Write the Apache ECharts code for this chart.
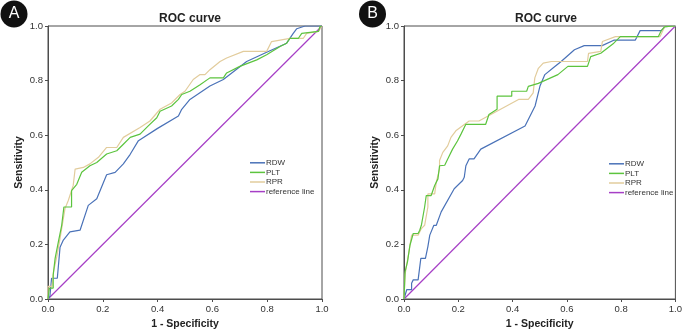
<!DOCTYPE html>
<html>
<head>
<meta charset="utf-8">
<script src="https://cdn.jsdelivr.net/npm/echarts@6/dist/echarts.min.js"></script>
<style>
  html, body { margin: 0; padding: 0; background: #fff; }
  #roc { width: 685px; height: 335px; }
</style>
</head>
<body>
<div id="roc"></div>
<script>
// ROC points [1 - specificity, sensitivity]
var rdwA = [[0,0],[0.007,0.01],[0.013,0.076],[0.034,0.076],[0.044,0.19],[0.056,0.216],[0.08,0.246],[0.117,0.252],[0.147,0.343],[0.178,0.367],[0.214,0.455],[0.245,0.464],[0.275,0.495],[0.30,0.53],[0.33,0.58],[0.40,0.625],[0.476,0.67],[0.488,0.695],[0.518,0.731],[0.591,0.78],[0.64,0.804],[0.725,0.87],[0.80,0.905],[0.871,0.937],[0.895,0.973],[0.908,0.99],[0.938,1],[1,1]];
var pltA = [[0,0],[0.005,0.04],[0.019,0.04],[0.019,0.088],[0.026,0.088],[0.026,0.149],[0.038,0.21],[0.05,0.27],[0.058,0.337],[0.086,0.337],[0.086,0.397],[0.105,0.42],[0.123,0.464],[0.153,0.488],[0.178,0.5],[0.214,0.531],[0.251,0.543],[0.275,0.567],[0.30,0.592],[0.336,0.604],[0.366,0.634],[0.397,0.664],[0.409,0.688],[0.451,0.707],[0.476,0.731],[0.488,0.749],[0.518,0.761],[0.555,0.785],[0.591,0.81],[0.64,0.81],[0.652,0.828],[0.70,0.852],[0.762,0.876],[0.798,0.895],[0.847,0.925],[0.871,0.937],[0.883,0.955],[0.914,0.955],[0.926,0.973],[0.987,0.98],[0.993,0.998],[1,1]];
var rprA = [[0,0],[0,0.046],[0.015,0.046],[0.02,0.1],[0.032,0.155],[0.044,0.222],[0.062,0.331],[0.074,0.361],[0.092,0.416],[0.099,0.476],[0.129,0.482],[0.153,0.495],[0.184,0.519],[0.214,0.555],[0.251,0.555],[0.275,0.592],[0.336,0.628],[0.372,0.652],[0.409,0.695],[0.451,0.718],[0.482,0.749],[0.50,0.761],[0.53,0.804],[0.555,0.822],[0.573,0.822],[0.591,0.84],[0.628,0.87],[0.652,0.883],[0.713,0.907],[0.798,0.907],[0.816,0.943],[0.883,0.955],[0.932,0.955],[0.944,0.973],[0.987,0.98],[1,1]];

var rdwB = [[0,0],[0.01,0.034],[0.028,0.034],[0.028,0.058],[0.034,0.07],[0.052,0.07],[0.062,0.149],[0.079,0.149],[0.088,0.192],[0.095,0.234],[0.11,0.27],[0.119,0.27],[0.137,0.319],[0.185,0.404],[0.216,0.434],[0.222,0.446],[0.228,0.488],[0.24,0.513],[0.258,0.513],[0.283,0.549],[0.446,0.634],[0.483,0.707],[0.501,0.78],[0.519,0.822],[0.549,0.846],[0.579,0.87],[0.628,0.913],[0.664,0.928],[0.73,0.928],[0.773,0.948],[0.852,0.948],[0.87,0.983],[0.949,0.983],[0.961,0.998],[1,1]];
var pltB = [[0,0],[0.004,0.1],[0.013,0.137],[0.022,0.197],[0.034,0.24],[0.052,0.24],[0.058,0.252],[0.064,0.27],[0.076,0.337],[0.082,0.379],[0.1,0.379],[0.113,0.416],[0.125,0.44],[0.131,0.488],[0.15,0.49],[0.167,0.525],[0.179,0.549],[0.197,0.579],[0.21,0.604],[0.222,0.628],[0.228,0.64],[0.301,0.64],[0.313,0.676],[0.343,0.695],[0.343,0.743],[0.397,0.743],[0.397,0.761],[0.452,0.761],[0.458,0.779],[0.495,0.79],[0.567,0.822],[0.604,0.852],[0.676,0.852],[0.688,0.888],[0.725,0.9],[0.773,0.937],[0.797,0.961],[0.937,0.961],[0.949,0.985],[0.961,0.998],[1,1]];
var rprB = [[0,0],[0.004,0.09],[0.016,0.161],[0.028,0.234],[0.052,0.234],[0.064,0.258],[0.076,0.27],[0.088,0.337],[0.088,0.385],[0.113,0.385],[0.119,0.428],[0.131,0.476],[0.131,0.507],[0.143,0.537],[0.161,0.561],[0.173,0.592],[0.191,0.616],[0.24,0.652],[0.276,0.652],[0.422,0.731],[0.458,0.731],[0.476,0.755],[0.482,0.81],[0.495,0.845],[0.513,0.864],[0.543,0.87],[0.676,0.87],[0.68,0.9],[0.725,0.907],[0.731,0.943],[0.779,0.961],[0.943,0.961],[0.961,0.998],[1,1]];

var refLine = [[0,0],[1,1]];
var names = ['RDW', 'PLT', 'RPR', 'reference line'];
var colors = ['#4a72b8', '#5cc43e', '#e2cc9c', '#a63fc6'];
var panels = ['A', 'B'];

function setRoc(){
    var chartDom = document.getElementById('roc');
    var myChart = echarts.init(chartDom);
    var font = 'Liberation Sans, Arial, sans-serif';
    var axisCol = '#4d4d4d';

    function xAx(i){
        return {
            type: 'value', gridIndex: i, min: 0, max: 1, interval: 0.2,
            name: '1 - Specificity', nameLocation: 'middle', nameGap: 20,
            nameTextStyle: {fontFamily: font, fontSize: 10.5, fontWeight: 'bold', color: '#222'},
            axisLine: {lineStyle: {color: axisCol, width: 1}},
            axisTick: {show: true, length: 3, lineStyle: {color: axisCol}},
            axisLabel: {fontFamily: font, fontSize: 9.5, color: '#333', margin: 5,
                formatter: function(v){ return v.toFixed(1); }},
            splitLine: {show: false}
        };
    }
    function yAx(i){
        return {
            type: 'value', gridIndex: i, min: 0, max: 1, interval: 0.2,
            name: 'Sensitivity', nameLocation: 'middle', nameGap: 23,
            nameTextStyle: {fontFamily: font, fontSize: 10.5, fontWeight: 'bold', color: '#222'},
            axisLine: {show: true, lineStyle: {color: axisCol, width: 1}},
            axisTick: {show: true, length: 3, lineStyle: {color: axisCol}},
            axisLabel: {fontFamily: font, fontSize: 9.5, color: '#333', margin: 5,
                formatter: function(v){ return v.toFixed(1); }},
            splitLine: {show: false}
        };
    }
    function line(name, data, i, col){
        return {
            name: name, type: 'line', xAxisIndex: i, yAxisIndex: i,
            data: data, symbol: 'none', silent: true,
            lineStyle: {color: col, width: 1.2}, itemStyle: {color: col}
        };
    }
    function legend(left, top){
        return {
            orient: 'vertical', left: left, top: top, padding: 0,
            data: names, icon: 'rect', itemWidth: 15, itemHeight: 1.5, itemGap: 0,
            textStyle: {fontFamily: font, fontSize: 8, lineHeight: 9.6, color: '#333', padding: [0, 0, 0, -4]},
            selectedMode: false
        };
    }

    var option = {
        animation: false,
        backgroundColor: '#fff',
        title: [
            {text: 'ROC curve', left: 185, top: 8, textAlign: 'center',
                textStyle: {fontFamily: font, fontSize: 12, fontWeight: 'bold', color: '#222'}},
            {text: 'ROC curve', left: 541, top: 8, textAlign: 'center',
                textStyle: {fontFamily: font, fontSize: 12, fontWeight: 'bold', color: '#222'}}
        ],
        legend: [legend(250, 158), legend(609, 159)],
        grid: [
            {left: 48, top: 26, width: 274, height: 275, show: true, borderColor: axisCol, borderWidth: 1, containLabel: false},
            {left: 404, top: 26, width: 275, height: 275, show: true, borderColor: axisCol, borderWidth: 1, containLabel: false}
        ],
        xAxis: [xAx(0), xAx(1)],
        yAxis: [yAx(0), yAx(1)],
        graphic: [
            {type: 'circle', shape: {cx: 14, cy: 14, r: 13.5}, style: {fill: '#111'}},
            {type: 'text', x: 14, y: 14, style: {text: panels[0], fill: '#fff', font: '16px ' + font, align: 'center', verticalAlign: 'middle'}},
            {type: 'circle', shape: {cx: 372.5, cy: 14, r: 13.5}, style: {fill: '#111'}},
            {type: 'text', x: 372.5, y: 14, style: {text: panels[1], fill: '#fff', font: '16px ' + font, align: 'center', verticalAlign: 'middle'}}
        ],
        series: [
            line(names[3], refLine, 0, colors[3]),
            line(names[0], rdwA, 0, colors[0]),
            line(names[2], rprA, 0, colors[2]),
            line(names[1], pltA, 0, colors[1]),
            line(names[3], refLine, 1, colors[3]),
            line(names[0], rdwB, 1, colors[0]),
            line(names[2], rprB, 1, colors[2]),
            line(names[1], pltB, 1, colors[1])
        ]
    };
    option && myChart.setOption(option);
}
setRoc();
</script>
</body>
</html>
